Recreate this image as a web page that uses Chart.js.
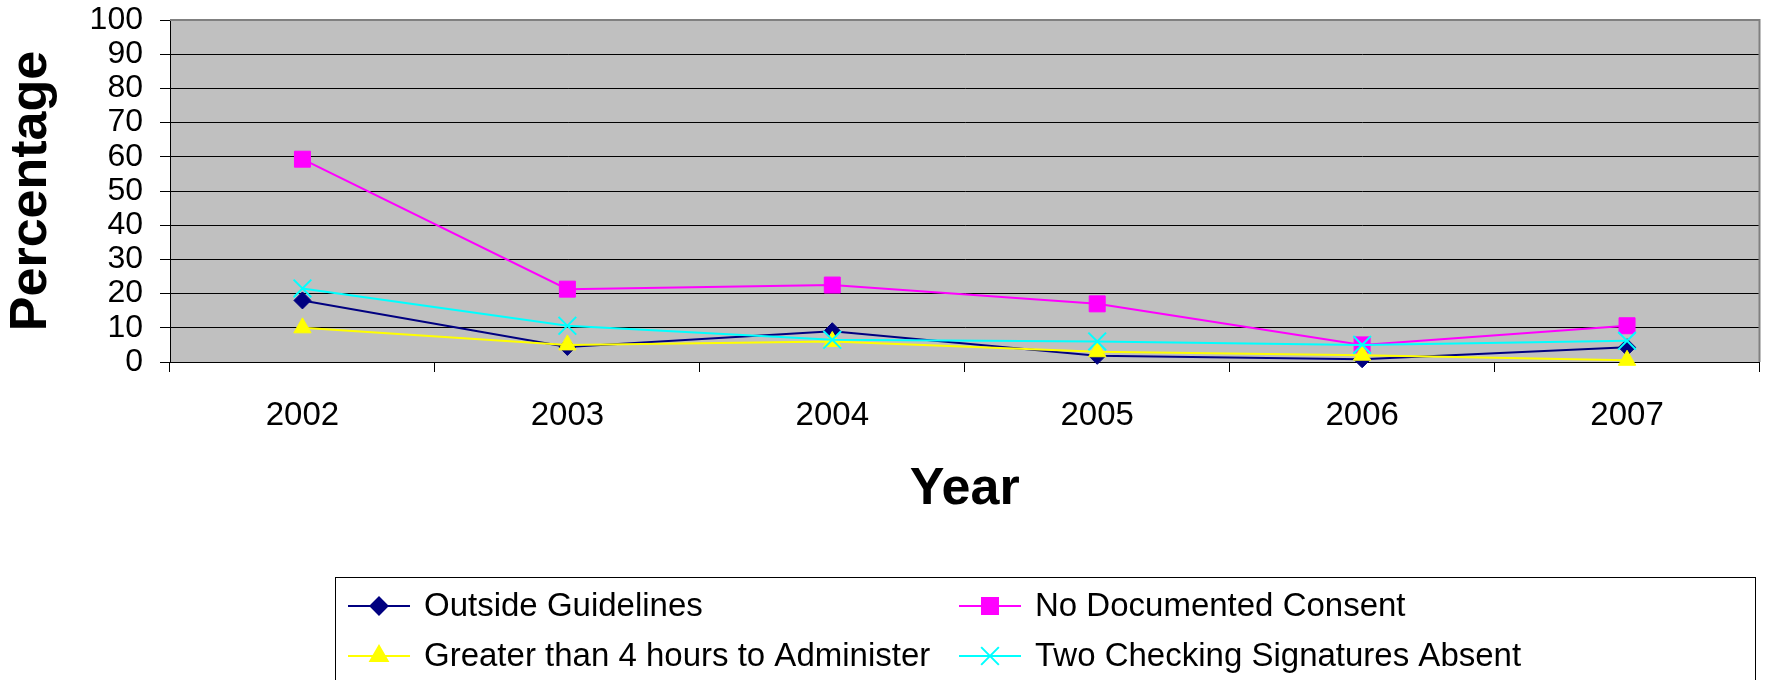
<!DOCTYPE html>
<html>
<head>
<meta charset="utf-8">
<script src="https://cdn.jsdelivr.net/npm/chart.js@4/dist/chart.umd.min.js"></script>
<style>
  html, body { margin: 0; padding: 0; background: #fff; }
  #wrap { width: 1774px; height: 680px; }
</style>
</head>
<body>
<div id="wrap"><canvas id="chart" width="1774" height="680"></canvas></div>
<script>
// values
const years = ['2002', '2003', '2004', '2005', '2006', '2007'];
const outsideGuidelines = [18, 4.4, 9, 1.8, 0.8, 4.3];
const noDocumentedConsent = [59.3, 21.3, 22.5, 17, 5, 10.6];
const greaterThan4Hours = [10, 5, 6, 3, 2, 0.5];
const twoSignaturesAbsent = [21.5, 10.6, 6.5, 6, 5, 6.2];

const FONT = "'Liberation Sans', Arial, sans-serif";
Chart.defaults.font.family = FONT;
Chart.defaults.color = '#000';

//grey plot area with the excel-like grey frame on top and right
const plotBackground = {
  id: 'plotBackground',
  beforeDraw(chart) {
    const { ctx, chartArea: a } = chart;
    ctx.save();
    ctx.fillStyle = '#c0c0c0';
    ctx.fillRect(a.left, a.top, a.width, a.height);
    ctx.restore();
  },
  beforeDatasetsDraw(chart) {
    const { ctx, chartArea: a } = chart;
    ctx.save();
    ctx.strokeStyle = '#808080';
    ctx.lineWidth = 2;
    ctx.beginPath();
    ctx.moveTo(a.left, a.top);
    ctx.lineTo(a.right, a.top);
    ctx.lineTo(a.right, a.bottom);
    ctx.stroke();
    ctx.restore();
  },
};

//boxed 2x2 legend under the axis title
const boxLegend = {
  id: 'boxLegend',
  afterDraw(chart) {
    const ctx = chart.ctx;
    const box = { left: 335, top: 577, right: 1755 };
    const cols = [348, 959];
    const rows = [606, 656];
    ctx.save();
    ctx.strokeStyle = '#000';
    ctx.lineWidth = 1;
    ctx.strokeRect(box.left + 0.5, box.top + 0.5, box.right - box.left, chart.height);

    chart.data.datasets.forEach((ds, i) => {
      const x = cols[i % 2];
      const y = rows[Math.floor(i / 2)];
      ctx.strokeStyle = ds.borderColor;
      ctx.lineWidth = 2;
      ctx.beginPath();
      ctx.moveTo(x, y);
      ctx.lineTo(x + 62, y);
      ctx.stroke();
      ctx.fillStyle = ds.pointBackgroundColor;
      ctx.strokeStyle = ds.pointBorderColor;
      Chart.helpers.drawPoint(ctx, {
        pointStyle: ds.pointStyle,
        radius: ds.pointRadius,
        borderWidth: ds.pointBorderWidth,
        rotation: 0,
      }, x + 31, y);

      ctx.fillStyle = '#000';
      ctx.font = '33px ' + FONT;
      ctx.textBaseline = 'middle';
      ctx.textAlign = 'left';
      ctx.fillText(ds.label, x + 76, y + 1);
    });
    ctx.restore();
  },
};

function series(label, data, color, style, radius, order) {
  return {
    label: label,
    data: data,
    borderColor: color,
    backgroundColor: color,
    borderWidth: 2,
    pointStyle: style,
    pointRadius: radius,
    pointHoverRadius: radius,
    pointBackgroundColor: color,
    pointBorderColor: color,
    pointBorderWidth: style === 'crossRot' ? 2 : 1,
    tension: 0,
    clip: false,
    order: order,
  };
}

new Chart(document.getElementById('chart'), {
  type: 'line',
  data: {
    labels: years,
    datasets: [
      series('Outside Guidelines', outsideGuidelines, '#000080', 'rectRot', 8.5, 3),
      series('No Documented Consent', noDocumentedConsent, '#ff00ff', 'rect', 11.3, 2),
      series('Greater than 4 hours to Administer', greaterThan4Hours, '#ffff00', 'triangle', 10, 1),
      series('Two Checking Signatures Absent', twoSignaturesAbsent, '#00ffff', 'crossRot', 12.5, 0),
    ],
  },
  options: {
    responsive: false,
    animation: false,
    events: [],
    layout: { padding: { top: 20, right: 11, bottom: 159, left: 0 } },
    plugins: {
      legend: { display: false },
      tooltip: { enabled: false },
    },
    scales: {
      x: {
        offset: true,
        grid: {
          offset: true,
          drawOnChartArea: false,
          drawTicks: true,
          tickLength: 10,
          color: '#000',
        },
        border: { display: true, color: '#000', width: 1 },
        ticks: { font: { size: 33 }, padding: 24, color: '#000', maxRotation: 0 },
        title: {
          display: true,
          text: 'Year',
          font: { size: 52, weight: 'bold' },
          padding: 0,
          color: '#000',
        },
        afterFit: (scale) => { scale.height = 159; },
      },
      y: {
        min: 0,
        max: 100,
        ticks: { stepSize: 10, autoSkip: false, font: { size: 32 }, padding: 17, color: '#000' },
        grid: { color: '#000', lineWidth: 1, tickLength: 10, drawTicks: true },
        border: { display: true, color: '#000', width: 1 },
        title: {
          display: true,
          text: 'Percentage',
          font: { size: 52, weight: 'bold' },
          padding: 0,
          color: '#000',
        },
        afterFit: (scale) => {
          scale.width = 170;
          scale.paddingTop = 0;
          scale.paddingBottom = 0;
        },
      },
    },
  },
  plugins: [plotBackground, boxLegend],
});
</script>
</body>
</html>
